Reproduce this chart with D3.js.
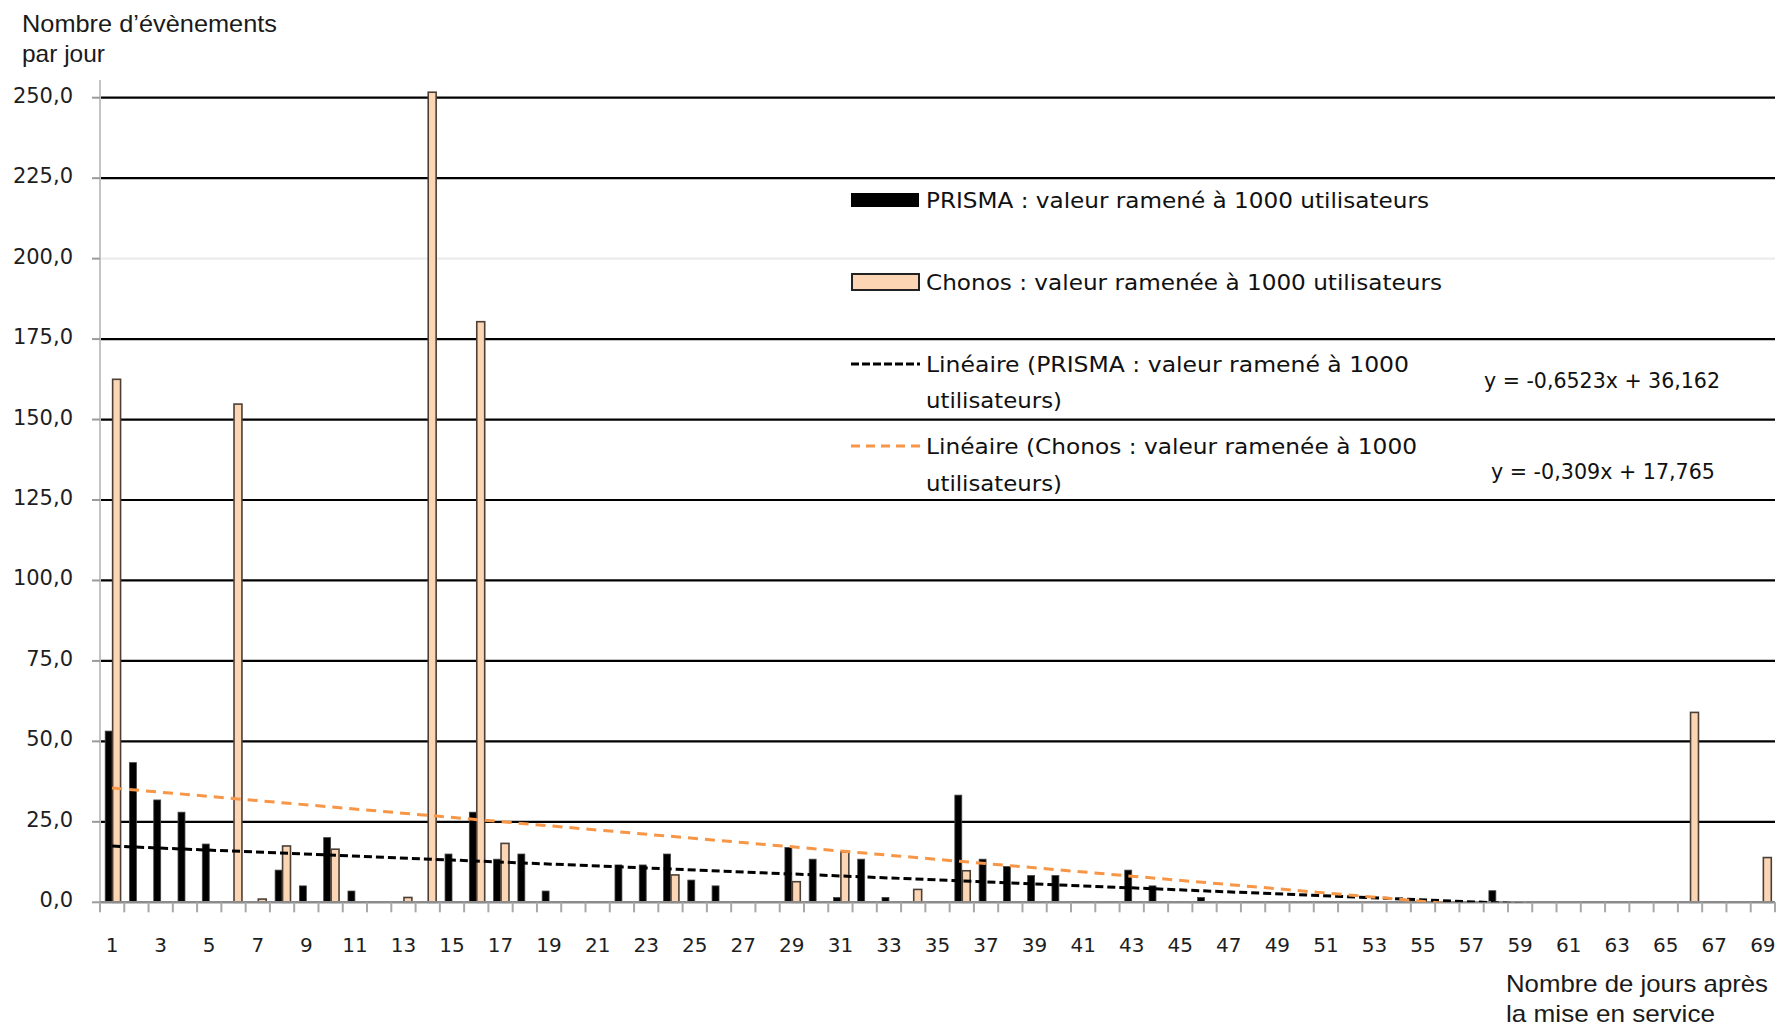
<!DOCTYPE html>
<html>
<head>
<meta charset="utf-8">
<script src="https://cdn.jsdelivr.net/npm/d3@7"></script>
<style>
  body { margin: 0; background: #fff; }
  svg { display: block; }
</style>
</head>
<body>
<div id="chart"></div>
<script>
// Days after going live (categories)
const days = d3.range(1, 70);

// PRISMA : value per 1000 users (0 = no bar)
const prisma = [53.2, 43.4, 31.8, 28.0, 18.1, 0, 0, 10.0, 5.1, 20.1,
                3.5, 0, 0, 0, 15.0, 28.0, 13.4, 15.0, 3.5, 0,
                0, 11.6, 11.6, 15.0, 6.9, 5.1, 0, 0, 17.0, 13.4,
                1.5, 13.4, 1.5, 0, 0, 33.3, 13.4, 11.1, 8.3, 8.3,
                0, 0, 10.0, 5.1, 0, 1.5, 0, 0, 0, 0,
                0, 0, 0, 0, 0, 0, 0, 3.6, 0, 0,
                0, 0, 0, 0, 0, 0, 0, 0, 0];

// Chonos : value per 1000 users
const chonos = [162.5, 0, 0, 0, 0, 154.8, 1.0, 17.5, 0, 16.5,
                0, 0, 1.5, 251.7, 0, 180.4, 18.3, 0, 0, 0,
                0, 0, 0, 8.5, 0, 0, 0, 0, 6.4, 0,
                15.7, 0, 0, 4.0, 0, 9.8, 0, 0, 0, 0,
                0, 0, 0, 0, 0, 0, 0, 0, 0, 0,
                0, 0, 0, 0, 0, 0, 0, 0, 0, 0,
                0, 0, 0, 0, 0, 59.0, 0, 0, 13.9];

// Trend lines as drawn [slope, intercept]
const blackTrend = [-0.309, 17.765];
const orangeTrend = [-0.6523, 36.162];

const yTicks = [0, 25, 50, 75, 100, 125, 150, 175, 200, 225, 250];
const xTickLabels = days.filter(d => d % 2 == 1);

const legendLabels = ["PRISMA : valeur ramené à 1000 utilisateurs",
                      "Chonos : valeur ramenée à 1000 utilisateurs",
                      "Linéaire (PRISMA : valeur ramené à 1000",
                      "Linéaire (Chonos : valeur ramenée à 1000"];
const equations = ["y = -0,6523x + 36,162", "y = -0,309x + 17,765"];

const width = 1782, height = 1027;
const plotLeft = 100, plotRight = 1775, plotTop = 97.7, plotBottom = 902.3;

let svg = d3.select("#chart")
    .append("svg")
    .attr("width", width)
    .attr("height", height);

// Scales
let x = d3.scaleBand().domain(days).range([plotLeft, plotRight]).padding(0);
let xs = d3.scaleBand().domain(["prisma", "chonos"])
    .range([0, x.bandwidth()]).paddingInner(0).paddingOuter(0.75);
let y = d3.scaleLinear().domain([0, 250]).range([plotBottom, plotTop]);
let xl = d3.scaleLinear().domain([1, 69])
    .range([x(1) + x.bandwidth() / 2, x(69) + x.bandwidth() / 2]);

const fmt = d => d3.format(".1f")(d).replace(".", ",");

// Gridlines
svg.append("g")
    .selectAll("line")
    .data(yTicks.filter(d => d > 0))
    .enter()
    .append("line")
        .attr("x1", plotLeft).attr("x2", plotRight)
        .attr("y1", d => y(d)).attr("y2", d => y(d))
        .attr("stroke", d => d == 200 ? "#ececec" : "#000")
        .attr("stroke-width", 2.2);

// Y axis line + ticks
svg.append("line")
    .attr("x1", plotLeft).attr("x2", plotLeft)
    .attr("y1", 80).attr("y2", plotBottom)
    .attr("stroke", "#c4c4c4").attr("stroke-width", 2);

svg.append("g")
    .selectAll("line")
    .data(yTicks)
    .enter()
    .append("line")
        .attr("x1", plotLeft - 8).attr("x2", plotLeft)
        .attr("y1", d => y(d)).attr("y2", d => y(d))
        .attr("stroke", "#9a9a9a").attr("stroke-width", 2);

svg.append("g")
    .selectAll("text")
    .data(yTicks)
    .enter()
    .append("text")
        .attr("x", 73)
        .attr("y", d => y(d) - 2)
        .attr("text-anchor", "end")
        .attr("dominant-baseline", "central")
        .style("font-family", "DejaVu Sans")
        .style("font-size", "21px")
        .style("fill", "#1e1e1e")
        .text(fmt);

// Bars - PRISMA
svg.append("g")
    .selectAll("rect")
    .data(days.filter((d, i) => prisma[i] > 0))
    .enter()
    .append("rect")
        .attr("x", d => x(d) + xs("prisma"))
        .attr("width", xs.bandwidth())
        .attr("y", d => y(prisma[d - 1]))
        .attr("height", d => plotBottom - y(prisma[d - 1]))
        .attr("fill", "#000")
        .attr("stroke", "#444")
        .attr("stroke-width", 0.8);

// Bars - Chonos
svg.append("g")
    .selectAll("rect")
    .data(days.filter((d, i) => chonos[i] > 0))
    .enter()
    .append("rect")
        .attr("x", d => x(d) + xs("chonos") + 0.5)
        .attr("width", xs.bandwidth() + 1)
        .attr("y", d => y(chonos[d - 1]))
        .attr("height", d => plotBottom - y(chonos[d - 1]))
        .attr("fill", "#fcd5b4")
        .attr("stroke", "#4a4038")
        .attr("stroke-width", 1.6);

// X axis
svg.append("line")
    .attr("x1", plotLeft).attr("x2", plotRight)
    .attr("y1", plotBottom).attr("y2", plotBottom)
    .attr("stroke", "#8c8c8c").attr("stroke-width", 2.5);

svg.append("g")
    .selectAll("line")
    .data(days.concat([70]))
    .enter()
    .append("line")
        .attr("x1", d => plotLeft + (d - 1) * x.step())
        .attr("x2", d => plotLeft + (d - 1) * x.step())
        .attr("y1", plotBottom).attr("y2", plotBottom + 10)
        .attr("stroke", "#a8a8a8").attr("stroke-width", 2);

svg.append("g")
    .selectAll("text")
    .data(xTickLabels)
    .enter()
    .append("text")
        .attr("x", d => x(d) + x.bandwidth() / 2)
        .attr("y", 945)
        .attr("text-anchor", "middle")
        .attr("dominant-baseline", "central")
        .style("font-family", "DejaVu Sans")
        .style("font-size", "20px")
        .style("fill", "#1e1e1e")
        .text(d => d);

// Trend lines
svg.append("clipPath").attr("id", "plotclip")
    .append("rect")
    .attr("x", plotLeft).attr("y", plotTop - 10)
    .attr("width", plotRight - plotLeft).attr("height", plotBottom - plotTop + 10);

let trend = function(coef, color, dash) {
    let line = d3.line()
        .x(d => xl(d))
        .y(d => y(coef[0] * d + coef[1]));
    svg.append("path")
        .datum([1, 69])
        .attr("d", line)
        .attr("clip-path", "url(#plotclip)")
        .attr("fill", "none")
        .attr("stroke", color)
        .attr("stroke-width", 3)
        .attr("stroke-dasharray", dash);
};
trend(blackTrend, "#000", "8,4");
trend(orangeTrend, "#f79646", "10,7");

// Legend
let legend = svg.append("g");
legend.append("rect")
    .attr("x", 851).attr("y", 193).attr("width", 68).attr("height", 14)
    .attr("fill", "#000");
legend.append("rect")
    .attr("x", 852).attr("y", 274).attr("width", 67).attr("height", 16)
    .attr("fill", "#fcd5b4").attr("stroke", "#222").attr("stroke-width", 2);
legend.append("line")
    .attr("x1", 851).attr("x2", 920).attr("y1", 364).attr("y2", 364)
    .attr("stroke", "#000").attr("stroke-width", 3).attr("stroke-dasharray", "8,3");
legend.append("line")
    .attr("x1", 851).attr("x2", 920).attr("y1", 446).attr("y2", 446)
    .attr("stroke", "#f79646").attr("stroke-width", 3).attr("stroke-dasharray", "9,6");

const legendRows = [
    {t: legendLabels[0], y: 200, w: 503},
    {t: legendLabels[1], y: 282, w: 516},
    {t: legendLabels[2], y: 364, w: 483},
    {t: "utilisateurs)", y: 400, w: 136},
    {t: legendLabels[3], y: 446, w: 491},
    {t: "utilisateurs)", y: 483, w: 136}
];
legend.selectAll("text.lg")
    .data(legendRows)
    .enter()
    .append("text")
        .attr("class", "lg")
        .attr("x", 926)
        .attr("y", d => d.y)
        .attr("dominant-baseline", "central")
        .attr("textLength", d => d.w)
        .attr("lengthAdjust", "spacingAndGlyphs")
        .style("font-family", "DejaVu Sans")
        .style("font-size", "22px")
        .style("fill", "#111")
        .text(d => d.t);

legend.selectAll("text.eq")
    .data([{t: equations[0], x: 1484, y: 381, w: 236},
           {t: equations[1], x: 1491, y: 472, w: 224}])
    .enter()
    .append("text")
        .attr("class", "eq")
        .attr("x", d => d.x)
        .attr("y", d => d.y)
        .attr("dominant-baseline", "central")
        .attr("textLength", d => d.w)
        .attr("lengthAdjust", "spacingAndGlyphs")
        .style("font-family", "DejaVu Sans")
        .style("font-size", "21px")
        .style("fill", "#111")
        .text(d => d.t);

// Axis titles
const titles = [
    {t: "Nombre d’évènements", x: 22, y: 32, w: 255},
    {t: "par jour", x: 22, y: 62, w: 83},
    {t: "Nombre de jours après", x: 1506, y: 992, w: 262},
    {t: "la mise en service", x: 1506, y: 1022, w: 209}
];
svg.selectAll("text.title")
    .data(titles)
    .enter()
    .append("text")
        .attr("class", "title")
        .attr("x", d => d.x)
        .attr("y", d => d.y)
        .attr("textLength", d => d.w)
        .attr("lengthAdjust", "spacingAndGlyphs")
        .style("font-family", "Liberation Sans")
        .style("font-size", "24px")
        .style("fill", "#1a1a1a")
        .text(d => d.t);
</script>
</body>
</html>
